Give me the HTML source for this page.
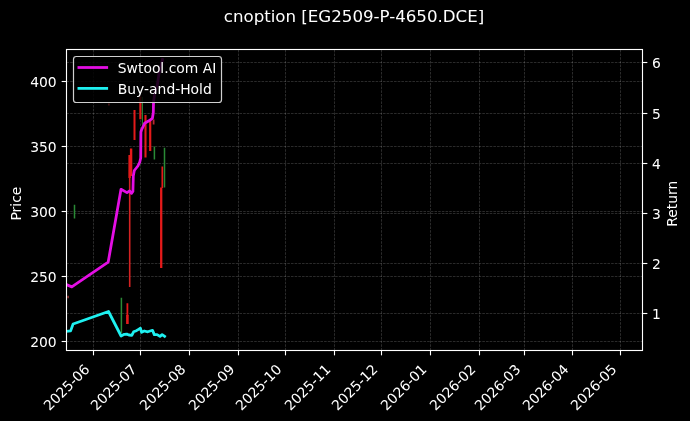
<!DOCTYPE html>
<html><head><meta charset="utf-8"><title>cnoption [EG2509-P-4650.DCE]</title>
<style>html,body{margin:0;padding:0;background:#000;width:690px;height:421px;overflow:hidden}svg{display:block}</style>
</head><body>
<svg width="690" height="421" viewBox="0 0 690 421">
<defs><clipPath id="ax"><rect x="66.5" y="49.5" width="576.0" height="301.0"/></clipPath></defs>
<rect x="0" y="0" width="690" height="421" fill="#000"/>
<g stroke="#ffffff" stroke-opacity="0.24" stroke-width="0.7" stroke-dasharray="2.57 1.11" fill="none"><line x1="66.5" y1="341.5" x2="642.5" y2="341.5"/><line x1="66.5" y1="276.5" x2="642.5" y2="276.5"/><line x1="66.5" y1="211.5" x2="642.5" y2="211.5"/><line x1="66.5" y1="146.5" x2="642.5" y2="146.5"/><line x1="66.5" y1="81.5" x2="642.5" y2="81.5"/><line x1="66.5" y1="313.5" x2="642.5" y2="313.5"/><line x1="66.5" y1="263.5" x2="642.5" y2="263.5"/><line x1="66.5" y1="213.5" x2="642.5" y2="213.5"/><line x1="66.5" y1="163.5" x2="642.5" y2="163.5"/><line x1="66.5" y1="113.5" x2="642.5" y2="113.5"/><line x1="66.5" y1="62.5" x2="642.5" y2="62.5"/><line x1="93.50" y1="350.5" x2="93.50" y2="49.5"/><line x1="140.50" y1="350.5" x2="140.50" y2="49.5"/><line x1="189.50" y1="350.5" x2="189.50" y2="49.5"/><line x1="238.50" y1="350.5" x2="238.50" y2="49.5"/><line x1="285.50" y1="350.5" x2="285.50" y2="49.5"/><line x1="334.50" y1="350.5" x2="334.50" y2="49.5"/><line x1="381.50" y1="350.5" x2="381.50" y2="49.5"/><line x1="430.50" y1="350.5" x2="430.50" y2="49.5"/><line x1="479.50" y1="350.5" x2="479.50" y2="49.5"/><line x1="524.50" y1="350.5" x2="524.50" y2="49.5"/><line x1="572.50" y1="350.5" x2="572.50" y2="49.5"/><line x1="620.50" y1="350.5" x2="620.50" y2="49.5"/></g>
<g clip-path="url(#ax)"><line x1="68.1" y1="295.8" x2="68.1" y2="298.2" stroke="#9a3434" stroke-width="1.5"/><line x1="74.5" y1="204.8" x2="74.5" y2="218.6" stroke="#2a8a36" stroke-width="1.5"/><line x1="121.4" y1="297.8" x2="121.4" y2="333.0" stroke="#2a8a36" stroke-width="1.5"/><line x1="127.4" y1="303.2" x2="127.4" y2="316.0" stroke="#e41a1a" stroke-width="1.8"/><line x1="127.4" y1="315.0" x2="127.4" y2="324.0" stroke="#e41a1a" stroke-width="2.6"/><line x1="129.7" y1="170.0" x2="129.7" y2="287.1" stroke="#d42222" stroke-width="1.6"/><line x1="108.9" y1="103.6" x2="108.9" y2="105.6" stroke="#5a1c1c" stroke-width="1.3"/><line x1="129.6" y1="155.0" x2="129.6" y2="178.0" stroke="#e41a1a" stroke-width="2.4"/><line x1="131.1" y1="148.5" x2="131.1" y2="176.0" stroke="#e41a1a" stroke-width="2.4"/><line x1="134.5" y1="110.0" x2="134.5" y2="140.0" stroke="#e41a1a" stroke-width="2.0"/><line x1="140.4" y1="96.5" x2="140.4" y2="119.3" stroke="#e41a1a" stroke-width="2.2"/><line x1="142.4" y1="97.0" x2="142.4" y2="124.8" stroke="#2a8a36" stroke-width="1.1"/><line x1="145.5" y1="115.0" x2="145.5" y2="157.5" stroke="#e41a1a" stroke-width="2.1"/><line x1="150.2" y1="119.0" x2="150.2" y2="151.0" stroke="#e41a1a" stroke-width="2.2"/><line x1="153.6" y1="119.5" x2="153.6" y2="124.6" stroke="#bb2630" stroke-width="1.8"/><line x1="154.4" y1="146.4" x2="154.4" y2="159.6" stroke="#2a8a36" stroke-width="1.5"/><line x1="162.3" y1="166.5" x2="162.3" y2="188.0" stroke="#e41a1a" stroke-width="1.7"/><line x1="161.2" y1="187.6" x2="161.2" y2="268.0" stroke="#e41a1a" stroke-width="2.3"/><line x1="164.5" y1="147.8" x2="164.5" y2="187.5" stroke="#2a8a36" stroke-width="1.5"/>
<polyline points="66.4,284.6 71.8,286.9 73.6,285.7 108.2,262.1 121.0,189.3 127.0,192.6 129.6,190.9 131.5,193.3 132.9,191.5 133.3,176 134.3,170.5 137.9,166 139.8,162 140.7,158 140.9,132 141.5,130 144.6,123.3 149,120.8 152.4,118.3 153.3,112.8 153.5,102 155,92 157.4,84.7 158.9,74 162.5,59.5" fill="none" stroke="#e40ee4" stroke-width="2.78" stroke-linejoin="round" stroke-linecap="square"/>
<polyline points="66.4,331.4 70.6,330.9 73.1,324 108.5,311.5 121.1,336.0 124.3,334.3 126.8,334.1 128.9,335 131.8,335.3 133.6,331.8 136.4,330.7 138.6,329.3 140.4,328.2 141.6,332.3 144.3,331 147.8,331.8 152.5,330.3 154.3,334.6 157.1,334.6 160,336.4 162.1,334.6 164.6,336.4" fill="none" stroke="#1ef0f0" stroke-width="2.78" stroke-linejoin="round" stroke-linecap="square"/>
</g>
<g stroke="#fff" stroke-width="1.11" fill="none"><rect x="66.5" y="49.5" width="576.0" height="301.0"/></g>
<g stroke="#fff" stroke-width="1.11"><line x1="61.64" y1="341.5" x2="66.5" y2="341.5"/><line x1="61.64" y1="276.5" x2="66.5" y2="276.5"/><line x1="61.64" y1="211.5" x2="66.5" y2="211.5"/><line x1="61.64" y1="146.5" x2="66.5" y2="146.5"/><line x1="61.64" y1="81.5" x2="66.5" y2="81.5"/><line x1="642.5" y1="313.5" x2="647.36" y2="313.5"/><line x1="642.5" y1="263.5" x2="647.36" y2="263.5"/><line x1="642.5" y1="213.5" x2="647.36" y2="213.5"/><line x1="642.5" y1="163.5" x2="647.36" y2="163.5"/><line x1="642.5" y1="113.5" x2="647.36" y2="113.5"/><line x1="642.5" y1="62.5" x2="647.36" y2="62.5"/><line x1="93.50" y1="350.5" x2="93.50" y2="355.36"/><line x1="140.50" y1="350.5" x2="140.50" y2="355.36"/><line x1="189.50" y1="350.5" x2="189.50" y2="355.36"/><line x1="238.50" y1="350.5" x2="238.50" y2="355.36"/><line x1="285.50" y1="350.5" x2="285.50" y2="355.36"/><line x1="334.50" y1="350.5" x2="334.50" y2="355.36"/><line x1="381.50" y1="350.5" x2="381.50" y2="355.36"/><line x1="430.50" y1="350.5" x2="430.50" y2="355.36"/><line x1="479.50" y1="350.5" x2="479.50" y2="355.36"/><line x1="524.50" y1="350.5" x2="524.50" y2="355.36"/><line x1="572.50" y1="350.5" x2="572.50" y2="355.36"/><line x1="620.50" y1="350.5" x2="620.50" y2="355.36"/></g>
<g fill="#fff" font-family="'DejaVu Sans', 'Liberation Sans', sans-serif" font-size="13.89"><text x="30.22 39.04 47.87" y="346.56">200</text><text x="30.22 39.04 47.87" y="281.56">250</text><text x="30.22 39.04 47.87" y="216.56">300</text><text x="30.22 39.04 47.87" y="151.56">350</text><text x="30.22 39.04 47.87" y="86.56">400</text><text x="652.10" y="318.56">1</text><text x="652.10" y="268.56">2</text><text x="652.10" y="218.56">3</text><text x="652.10" y="168.56">4</text><text x="652.10" y="118.56">5</text><text x="652.10" y="67.56">6</text><text x="0.00 8.83 17.66 26.48 35.31 40.32 49.15" y="0.00" transform="translate(49.43,411.20) rotate(-45)">2025-06</text><text x="0.00 8.83 17.66 26.48 35.31 40.32 49.15" y="0.00" transform="translate(96.43,411.20) rotate(-45)">2025-07</text><text x="0.00 8.83 17.66 26.48 35.31 40.32 49.15" y="0.00" transform="translate(145.43,411.20) rotate(-45)">2025-08</text><text x="0.00 8.83 17.66 26.48 35.31 40.32 49.15" y="0.00" transform="translate(194.43,411.20) rotate(-45)">2025-09</text><text x="0.00 8.83 17.66 26.48 35.31 40.32 49.15" y="0.00" transform="translate(241.43,411.20) rotate(-45)">2025-10</text><text x="0.00 8.83 17.66 26.48 35.31 40.32 49.15" y="0.00" transform="translate(290.43,411.20) rotate(-45)">2025-11</text><text x="0.00 8.83 17.66 26.48 35.31 40.32 49.15" y="0.00" transform="translate(337.43,411.20) rotate(-45)">2025-12</text><text x="0.00 8.83 17.66 26.48 35.31 40.32 49.15" y="0.00" transform="translate(386.43,411.20) rotate(-45)">2026-01</text><text x="0.00 8.83 17.66 26.48 35.31 40.32 49.15" y="0.00" transform="translate(435.43,411.20) rotate(-45)">2026-02</text><text x="0.00 8.83 17.66 26.48 35.31 40.32 49.15" y="0.00" transform="translate(480.43,411.20) rotate(-45)">2026-03</text><text x="0.00 8.83 17.66 26.48 35.31 40.32 49.15" y="0.00" transform="translate(528.43,411.20) rotate(-45)">2026-04</text><text x="0.00 8.83 17.66 26.48 35.31 40.32 49.15" y="0.00" transform="translate(576.43,411.20) rotate(-45)">2026-05</text><text x="-16.92 -8.80 -3.10 0.76 8.38" y="0.00" transform="translate(20.6,203.6) rotate(-90)">Price</text><text x="-23.02 -14.00 -5.47 -0.02 8.77 14.22" y="0.00" transform="translate(677.1,203.8) rotate(-90)">Return</text></g>
<g fill="#fff" font-family="'DejaVu Sans', 'Liberation Sans', sans-serif" font-size="16.67"><text x="223.82 232.96 243.50 253.67 264.22 270.74 275.36 285.53 296.07 301.35 307.84 318.34 331.23 341.80 352.38 362.96 373.54 379.53 389.19 395.18 405.76 416.34 426.92 437.49 442.78 455.58 467.19 477.69" y="21.70">cnoption [EG2509-P-4650.DCE]</text></g>
<rect x="73.5" y="56.5" width="148" height="46" rx="2.8" fill="#000" fill-opacity="0.84" stroke="#d0d0d0" stroke-width="1.2"/><line x1="78.9" y1="67.5" x2="106.7" y2="67.5" stroke="#e40ee4" stroke-width="2.78" stroke-linecap="square"/><line x1="78.9" y1="88.4" x2="106.7" y2="88.4" stroke="#1ef0f0" stroke-width="2.78" stroke-linecap="square"/><g fill="#fff" font-family="'DejaVu Sans', 'Liberation Sans', sans-serif" font-size="13.89"><text x="117.80 126.61 137.96 143.40 151.88 160.37 164.23 168.64 176.27 184.76 198.27 202.68 212.17" y="73.30">Swtool.com AI</text><text x="117.80 127.32 136.11 144.07 149.08 157.58 166.38 175.18 180.19 190.62 199.11 202.97" y="93.90">Buy-and-Hold</text></g>
</svg>
</body></html>
